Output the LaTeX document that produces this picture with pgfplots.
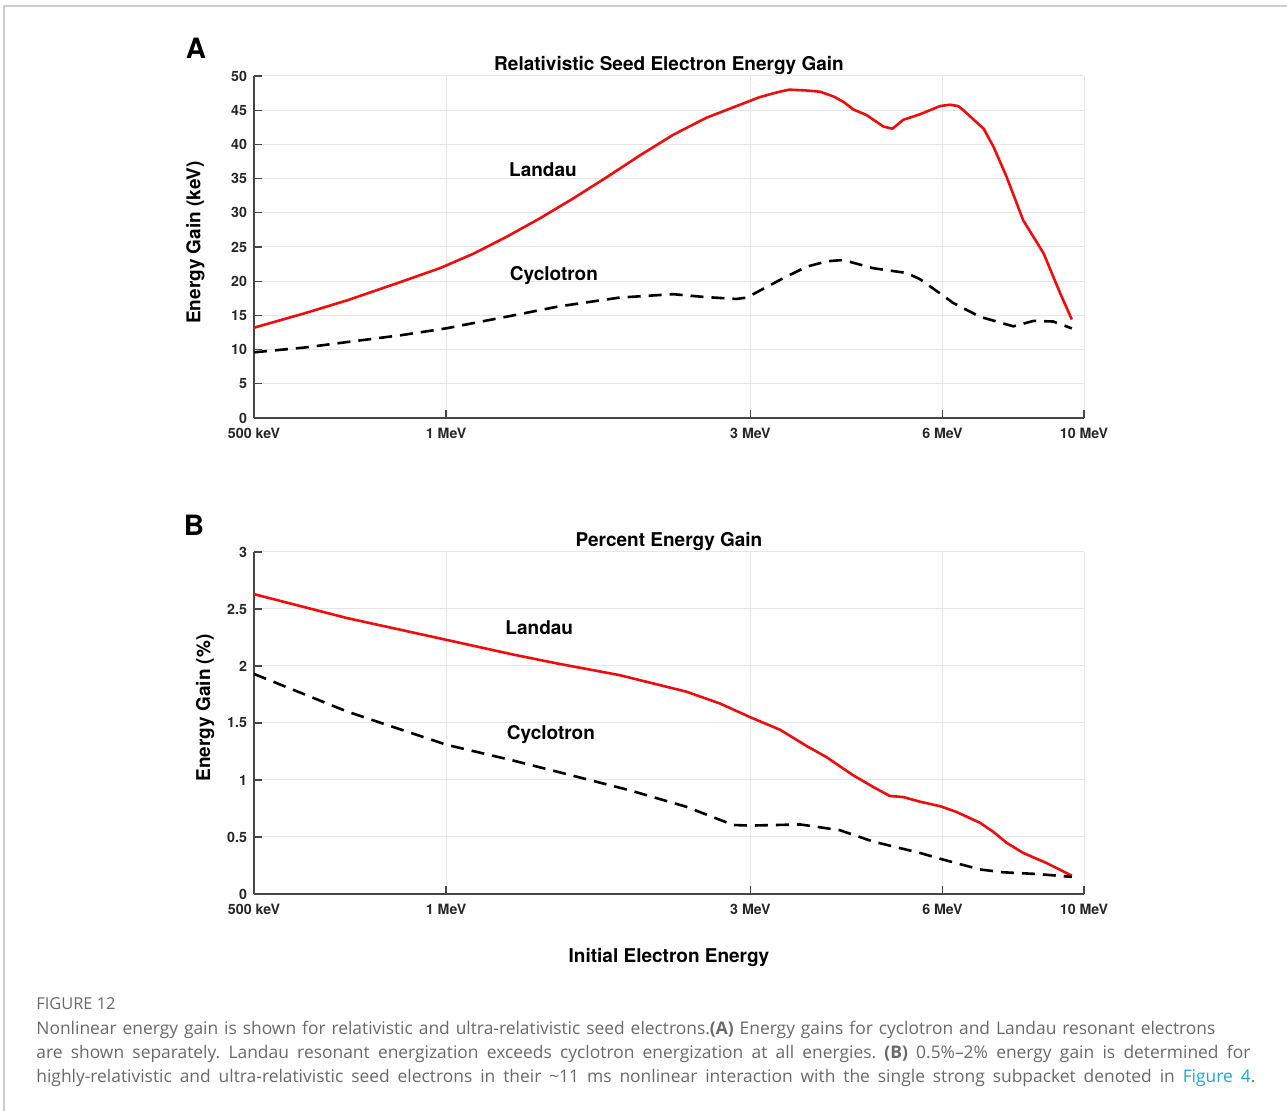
\documentclass[border=0pt]{standalone}
\usepackage{fontspec}
\setmainfont{TeX Gyre Heros}
\newfontfamily\capfont{Open Sans}
\usepackage{pgfplots}
\pgfplotsset{compat=1.18}
\definecolor{gridgray}{RGB}{230,230,230}
\definecolor{axgray}{RGB}{70,70,70}
\definecolor{capgray}{RGB}{105,105,105}
\definecolor{figlink}{RGB}{30,170,200}
\definecolor{mred}{RGB}{240,12,12}
\definecolor{framegray}{RGB}{205,205,205}

\tikzset{landauline/.style={mred, line width=1.3pt},
         cycloline/.style={black, line width=1.3pt, dash pattern=on 6.5pt off 4pt}}

\begin{document}
\frenchspacing
\begin{tikzpicture}
\path[use as bounding box] (0,0) rectangle (643.5pt,555.5pt);
% page frame
\draw[framegray, line width=0.7pt] (643.5pt,552.5pt) -- (2pt,552.5pt) -- (2pt,0pt);

% Panel A
\begin{axis}[
  scale only axis, width=415pt, height=171pt,
  xmode=log, xmin=0.5, xmax=10,
  xtick={0.5,1,3,6,10},
  xticklabels={500 keV,1 MeV,3 MeV,6 MeV,10 MeV},
  minor xtick={},
  axis x line=bottom, axis y line=left,
  axis line style={-, axgray, line width=0.6pt},
  tick align=inside, major tick length=4pt,
  tick style={axgray, line width=0.6pt},
  xmajorgrids, ymajorgrids,
  major grid style={gridgray, line width=0.5pt},
  tick label style={font=\bfseries\fontsize{7.1}{8}\selectfont, text=black!85},
  xticklabel style={yshift=-1.5pt},
  /pgf/number format/assume math mode=true,
  title style={font=\bfseries\fontsize{9.5}{11}\selectfont, at={(axis description cs:0.5,0.997)}, anchor=center},
  ylabel style={font=\bfseries\fontsize{9.5}{11}\selectfont, anchor=center, at={(axis description cs:-0.0705,0.513)}},
  at={(127pt,346.5pt)}, anchor=south west,
  ymin=0, ymax=50, ytick={0,5,...,50},
  title={Relativistic Seed Electron Energy Gain},
  ylabel={Energy Gain (keV)},
]
\addplot[landauline] coordinates {
(0.5,13.2) (0.6,15.3) (0.7,17.2) (0.85,19.9) (0.978,21.9) (1.103,24.0)
(1.245,26.5) (1.404,29.2) (1.583,32.1) (1.786,35.2) (2.014,38.4) (2.27,41.4)
(2.56,43.9) (2.89,45.8) (3.10,46.9) (3.3,47.6) (3.45,48.0)
(3.65,47.9) (3.86,47.7) (4.05,47.0) (4.2,46.2) (4.35,45.1) (4.56,44.3)
(4.85,42.6) (5.01,42.3) (5.21,43.6) (5.53,44.4) (5.95,45.6) (6.16,45.8)
(6.35,45.6) (6.47,45.0) (6.96,42.3) (7.21,39.7) (7.56,35.3) (8.03,28.9)
(8.64,24.1) (9.18,18.2) (9.57,14.4)
};
\addplot[cycloline] coordinates {
(0.5,9.6) (0.6,10.3) (0.7,11.1) (0.85,12.1) (1.0,13.1) (1.275,15.0)
(1.5,16.3) (1.87,17.6) (2.27,18.1) (2.53,17.7) (2.85,17.4) (2.96,17.6)
(3.34,20.2) (3.67,22.1) (3.95,22.9) (4.19,23.1) (4.67,21.9) (5.27,21.2)
(5.53,20.3) (5.95,18.2) (6.24,16.8) (6.87,14.8) (7.75,13.4) (8.34,14.2)
(8.95,14.1) (9.57,13.1)
};
\node[font=\bfseries\fontsize{9.5}{11}\selectfont] at (axis cs:1.419,36.3) {Landau};
\node[font=\bfseries\fontsize{9.5}{11}\selectfont] at (axis cs:1.476,20.8) {Cyclotron};
\end{axis}

% Panel B
\begin{axis}[
  scale only axis, width=415pt, height=171pt,
  xmode=log, xmin=0.5, xmax=10,
  xtick={0.5,1,3,6,10},
  xticklabels={500 keV,1 MeV,3 MeV,6 MeV,10 MeV},
  minor xtick={},
  axis x line=bottom, axis y line=left,
  axis line style={-, axgray, line width=0.6pt},
  tick align=inside, major tick length=4pt,
  tick style={axgray, line width=0.6pt},
  xmajorgrids, ymajorgrids,
  major grid style={gridgray, line width=0.5pt},
  tick label style={font=\bfseries\fontsize{7.1}{8}\selectfont, text=black!85},
  xticklabel style={yshift=-1.5pt},
  /pgf/number format/assume math mode=true,
  title style={font=\bfseries\fontsize{9.5}{11}\selectfont, at={(axis description cs:0.5,0.997)}, anchor=center},
  ylabel style={font=\bfseries\fontsize{9.5}{11}\selectfont, anchor=center, at={(axis description cs:-0.059,0.544)}},
  xlabel style={font=\bfseries\fontsize{9.5}{11}\selectfont, anchor=center, at={(axis description cs:0.5,-0.187)}},
  at={(127pt,108.5pt)}, anchor=south west,
  ymin=0, ymax=3, ytick={0,0.5,1,1.5,2,2.5,3},
  yticklabels={0,0.5,1,1.5,2,2.5,3},
  title={Percent Energy Gain},
  ylabel={Energy Gain (\%)},
  xlabel={Initial Electron Energy},
]
\addplot[landauline] coordinates {
(0.5,2.63) (0.7,2.42) (1.0,2.23) (1.275,2.10) (1.5,2.02) (1.87,1.92)
(2.38,1.775) (2.69,1.67) (3.0,1.55) (3.34,1.44) (3.67,1.30) (3.95,1.20)
(4.35,1.04) (4.67,0.94) (4.96,0.86) (5.21,0.85) (5.53,0.81) (5.95,0.77)
(6.31,0.72) (6.87,0.625) (7.21,0.545) (7.56,0.45) (8.03,0.36) (8.75,0.27)
(9.57,0.16)
};
\addplot[cycloline] coordinates {
(0.5,1.93) (0.7,1.60) (1.0,1.31) (1.275,1.17) (1.5,1.07) (1.94,0.91)
(2.38,0.765) (2.82,0.605) (3.0,0.60) (3.59,0.61) (4.14,0.56) (4.67,0.46)
(5.53,0.36) (6.03,0.30) (6.87,0.215) (7.48,0.19) (8.45,0.175) (9.57,0.15)
};
\node[font=\bfseries\fontsize{9.5}{11}\selectfont] at (axis cs:1.40,2.34) {Landau};
\node[font=\bfseries\fontsize{9.5}{11}\selectfont] at (axis cs:1.46,1.395) {Cyclotron};
\end{axis}

% panel letters
\node[font=\bfseries\fontsize{14}{16}\selectfont] at (98pt,531.5pt) {A};
\node[font=\bfseries\fontsize{14}{16}\selectfont] at (97pt,293pt) {B};

% caption
\begin{scope}[every node/.style={anchor=base west, inner sep=0pt, text=capgray, font=\capfont\fontsize{8.7}{10}\selectfont}]
\node[font=\capfont\fontsize{8.2}{10}\selectfont] at (18pt,50.5pt) {FIGURE 12};
\node at (18pt,38pt) {\makebox[589.5pt][s]{Nonlinear energy gain is shown for relativistic and ultra-relativistic seed electrons.{\bfseries (A)} Energy gains for cyclotron and Landau resonant electrons}};
\node at (18pt,26pt) {\makebox[607pt][s]{are shown separately. Landau resonant energization exceeds cyclotron energization at all energies. {\bfseries (B)} 0.5\%\textendash 2\% energy gain is determined for}};
\node at (18pt,14pt) {\makebox[609.5pt][s]{highly-relativistic and ultra-relativistic seed electrons in their \textasciitilde 11 ms nonlinear interaction with the single strong subpacket denoted in {\color{figlink}Figure 4}.}};
\end{scope}
\end{tikzpicture}
\end{document}
